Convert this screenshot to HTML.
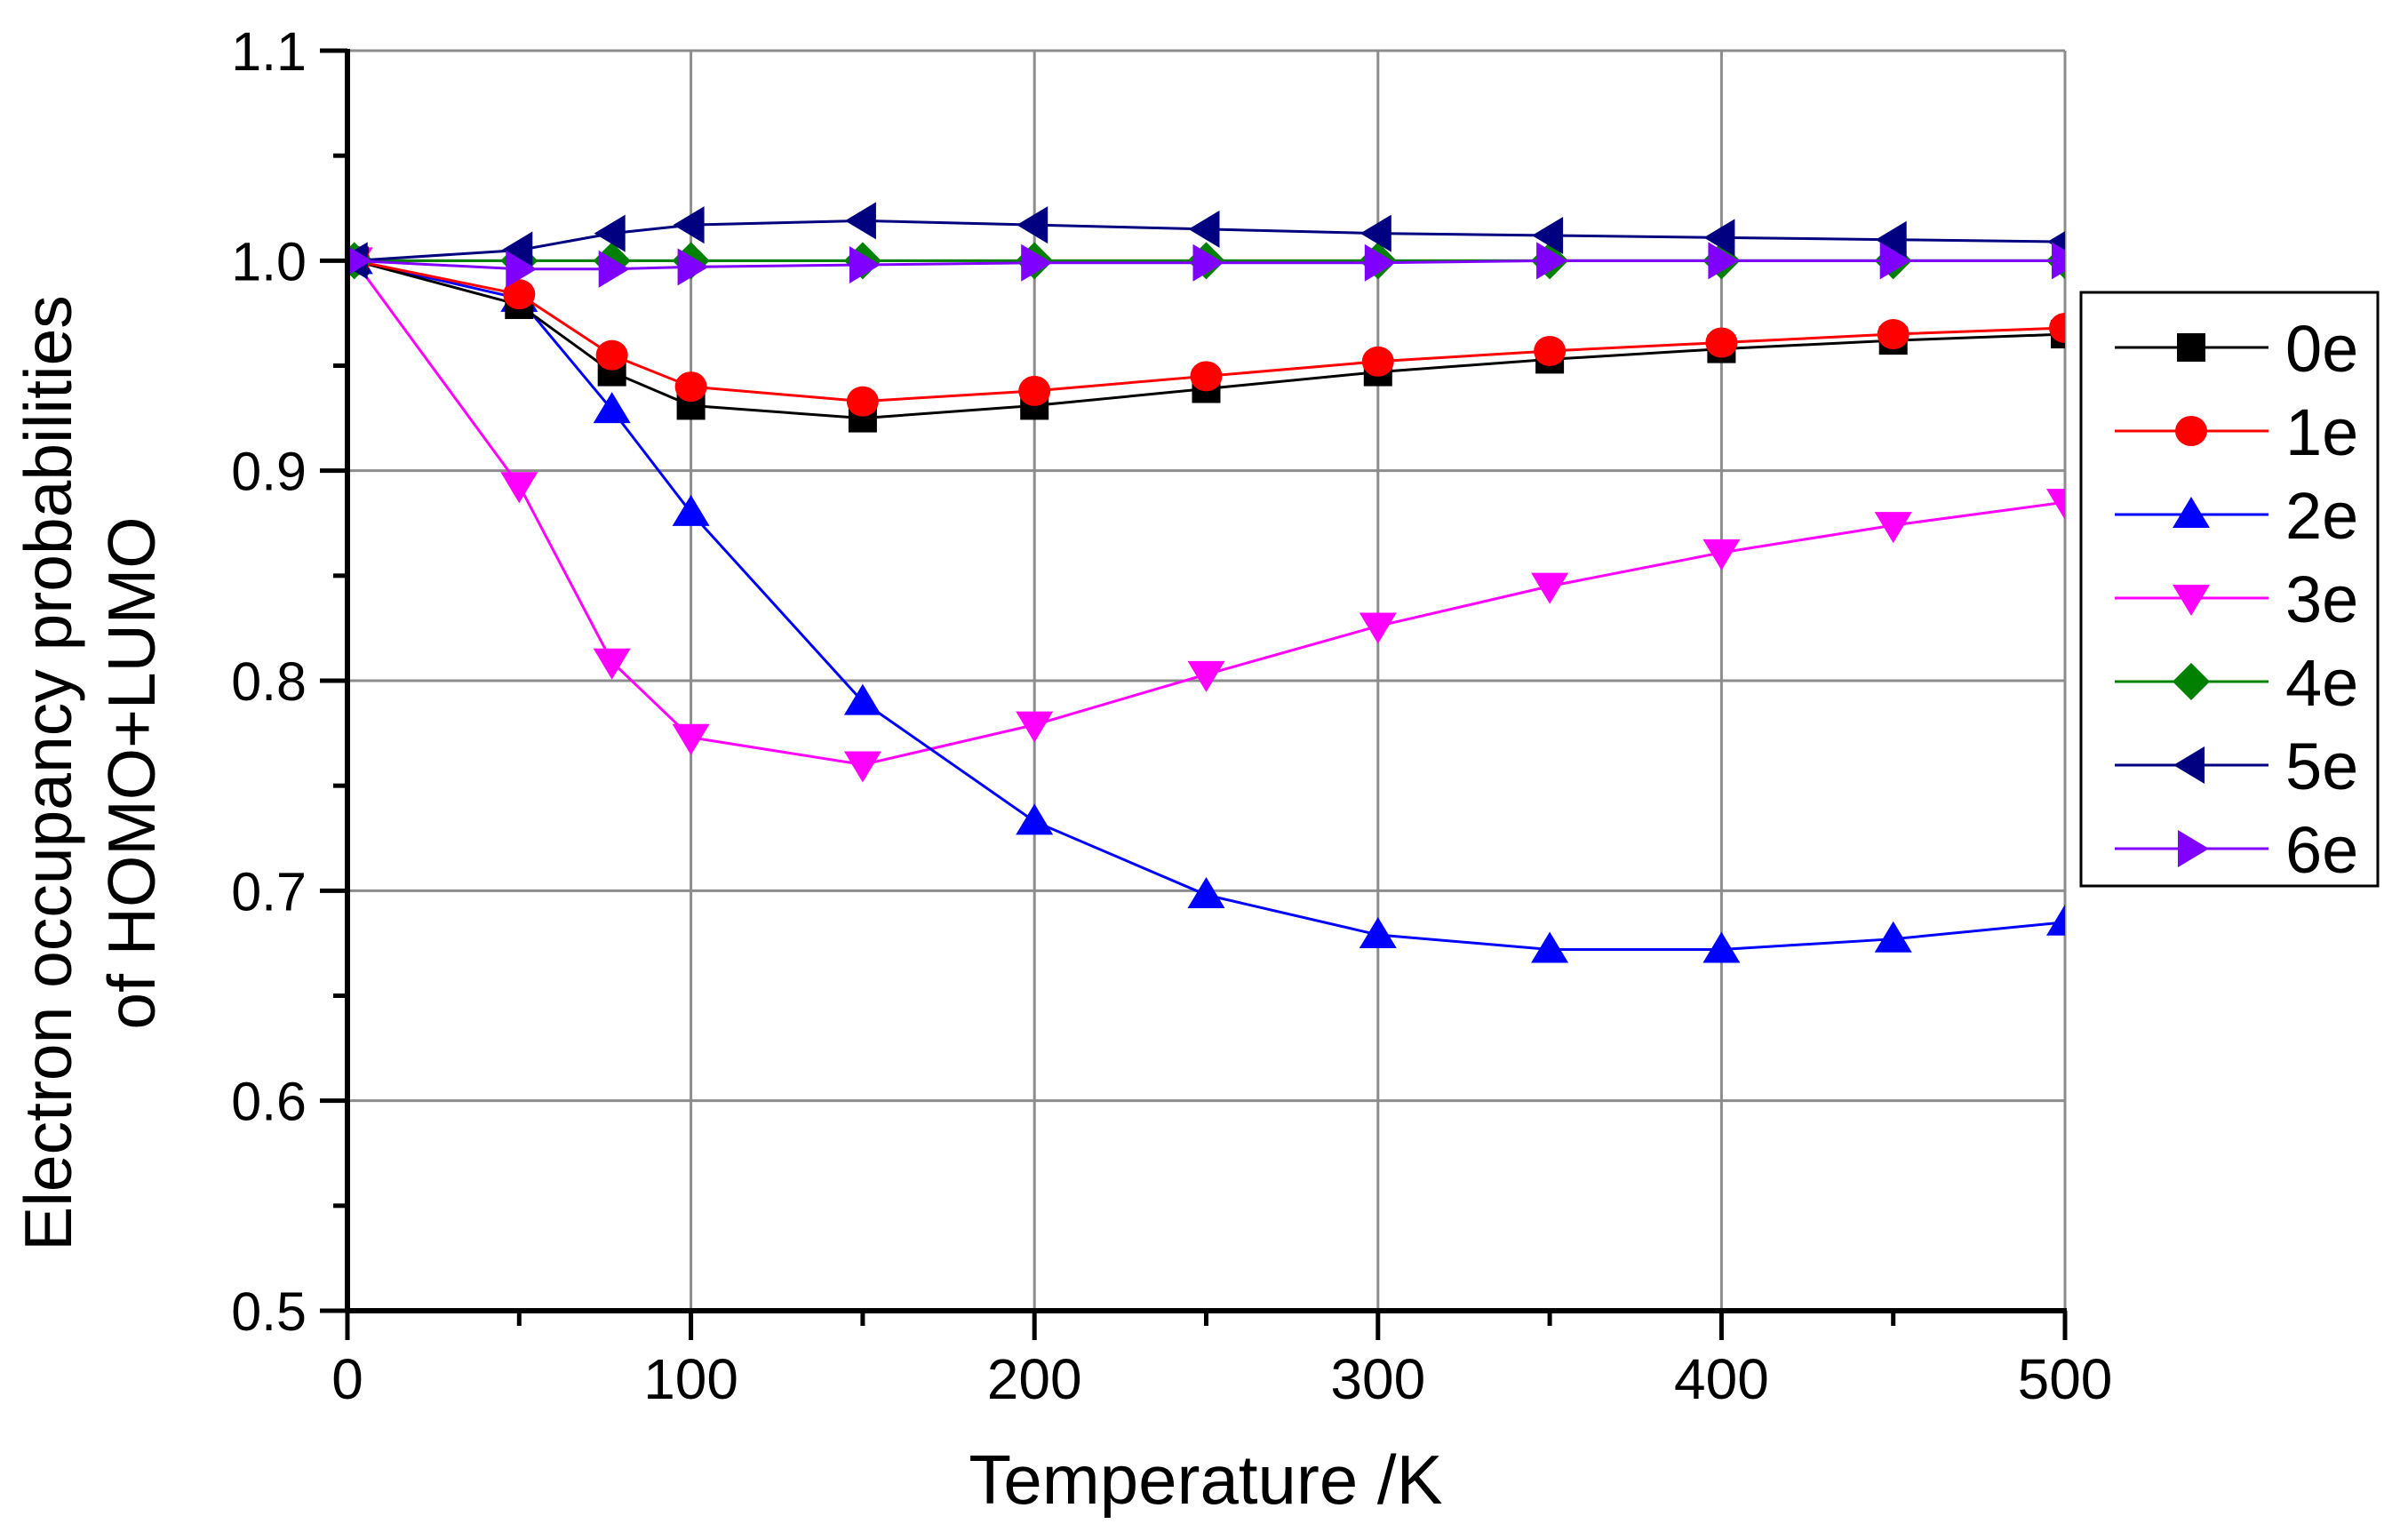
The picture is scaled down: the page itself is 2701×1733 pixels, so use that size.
<!DOCTYPE html>
<html><head><meta charset="utf-8"><style>
html,body{margin:0;padding:0;background:#fff;}
svg text{font-family:"Liberation Sans",Arial,sans-serif;fill:#000;}
</style></head><body>
<svg id="chart" width="2701" height="1728" viewBox="0 0 2701 1728" xmlns="http://www.w3.org/2000/svg">
<defs><clipPath id="plotclip"><rect x="391" y="57" width="1933" height="1418"/></clipPath></defs>
<g id="grid"></g>
<g id="series" clip-path="url(#plotclip)"></g>
<g id="axes"></g>
<text x="1357" y="1692" font-size="78" text-anchor="middle">Temperature /K</text>
<text transform="translate(80,870) rotate(-90)" font-size="75" text-anchor="middle">Electron occupancy probabilities</text>
<text transform="translate(174,870) rotate(-90)" font-size="75" text-anchor="middle">of HOMO+LUMO</text>
<rect x="2342" y="329" width="334" height="668" fill="#fff" stroke="#000" stroke-width="3"/>
<g id="legend"></g>
</svg>
<script>
const temps = [2, 50, 77, 100, 150, 200, 250, 300, 350, 400, 450, 500];
const s0e = [1.0, 0.979, 0.947, 0.931, 0.925, 0.931, 0.939, 0.947, 0.953, 0.958, 0.962, 0.965];
const s1e = [1.0, 0.984, 0.955, 0.940, 0.933, 0.938, 0.945, 0.952, 0.957, 0.961, 0.965, 0.968];
const s2e = [1.0, 0.982, 0.929, 0.880, 0.790, 0.733, 0.698, 0.679, 0.672, 0.672, 0.677, 0.685];
const s3e = [1.0, 0.893, 0.809, 0.773, 0.760, 0.779, 0.803, 0.826, 0.845, 0.861, 0.874, 0.885];
const s4e = [1.0, 1.0, 1.0, 1.0, 1.0, 1.0, 1.0, 1.0, 1.0, 1.0, 1.0, 1.0];
const s5e = [1.0, 1.005, 1.013, 1.017, 1.019, 1.017, 1.015, 1.013, 1.012, 1.011, 1.010, 1.009];
const s6e = [1.0, 0.996, 0.996, 0.997, 0.998, 0.999, 0.999, 0.999, 1.0, 1.0, 1.0, 1.0];
const seriesNames = ["0e", "1e", "2e", "3e", "4e", "5e", "6e"];
const xTicks = [0, 100, 200, 300, 400, 500];
const xTickLabels = ["0", "100", "200", "300", "400", "500"];
const yTicks = [0.5, 0.6, 0.7, 0.8, 0.9, 1.0, 1.1];
const yTickLabels = ["0.5", "0.6", "0.7", "0.8", "0.9", "1.0", "1.1"];

const X0 = 391, X1 = 2324, Y0 = 1475, Y1 = 57;
const xs = t => X0 + (t - 0) / 500 * (X1 - X0);
const ys = v => Y0 - (v - 0.5) / 0.6 * (Y0 - Y1);
const NS = "http://www.w3.org/2000/svg";
function mk(tag, attrs, parent) {
  const e = document.createElementNS(NS, tag);
  for (const k in attrs) e.setAttribute(k, attrs[k]);
  parent.appendChild(e);
  return e;
}
const grid = document.getElementById('grid');
const axes = document.getElementById('axes');
xTicks.forEach((t, i) => {
  if (t > 0) {
    const g = mk('line', {x1: xs(t), x2: xs(t), y1: Y1, y2: Y0, stroke: '#8c8c8c', 'stroke-width': 3}, grid);
    
    
  }
  const tk = mk('line', {x1: xs(t), x2: xs(t), y1: Y0, y2: Y0 + 33, stroke: '#000', 'stroke-width': 5}, axes);
  
  
  const mn = mk('line', {x1: xs(t + 50), x2: xs(t + 50), y1: Y0, y2: Y0 + 17, stroke: '#000', 'stroke-width': 5}, axes);
  if (t + 50 > 500) mn.remove();
  
  
  const lb = mk('text', {x: xs(t), y: 1574, 'font-size': 64, 'text-anchor': 'middle'}, axes);
  lb.textContent = xTickLabels[i];
  
  
});
yTicks.forEach((v, i) => {
  if (v > 0.5) {
    const g = mk('line', {x1: X0, x2: X1, y1: ys(v), y2: ys(v), stroke: '#8c8c8c', 'stroke-width': 3}, grid);
    
    
  }
  const tk = mk('line', {x1: X0 - 31, x2: X0, y1: ys(v), y2: ys(v), stroke: '#000', 'stroke-width': 5}, axes);
  
  
  if (v < 1.1) {
    const mn = mk('line', {x1: X0 - 16, x2: X0, y1: ys(v + 0.05), y2: ys(v + 0.05), stroke: '#000', 'stroke-width': 5}, axes);
    
    
  }
  const lb = mk('text', {x: 345, y: ys(v) + 22, 'font-size': 61, 'text-anchor': 'end'}, axes);
  lb.textContent = yTickLabels[i];
  
  
});
const ax1 = mk('line', {x1: X0, x2: X0, y1: Y1 - 2, y2: Y0 + 2, stroke: '#000', 'stroke-width': 6}, axes);


const ax2 = mk('line', {x1: X0, x2: X1 + 2, y1: Y0, y2: Y0, stroke: '#000', 'stroke-width': 6}, axes);



function marker(shape, cx, cy, color, parent) {
  let e;
  const r = 18;
  if (shape === 'square') e = mk('rect', {x: cx - 16, y: cy - 16, width: 32, height: 32, fill: color}, parent);
  else if (shape === 'circle') e = mk('ellipse', {cx: cx, cy: cy, rx: 18, ry: 17, fill: color}, parent);
  else {
    let p;
    if (shape === 'up') p = [[cx, cy - 20], [cx + 21, cy + 15], [cx - 21, cy + 15]];
    if (shape === 'down') p = [[cx, cy + 20], [cx + 21, cy - 15], [cx - 21, cy - 15]];
    if (shape === 'left') p = [[cx - 20, cy], [cx + 15, cy - 21], [cx + 15, cy + 21]];
    if (shape === 'right') p = [[cx + 20, cy], [cx - 15, cy - 21], [cx - 15, cy + 21]];
    if (shape === 'diamond') p = [[cx, cy - r - 3], [cx + r + 3, cy], [cx, cy + r + 3], [cx - r - 3, cy]];
    e = mk('polygon', {points: p.map(q => q.join(',')).join(' '), fill: color}, parent);
  }
  return e;
}
const allSeries = [s0e, s1e, s2e, s3e, s4e, s5e, s6e];
const colors = ['#000000', '#ff0000', '#0000ff', '#ff00ff', '#008000', '#000080', '#8000ff'];
const shapes = ['square', 'circle', 'up', 'down', 'diamond', 'left', 'right'];
const drawOrder = [3, 2, 0, 1, 4, 5, 6];
const sg = document.getElementById('series');
drawOrder.forEach(i => {
  const g = mk('g', {}, sg);
  
  
  const pl = mk('polyline', {points: temps.map((t, j) => xs(t) + ',' + ys(allSeries[i][j])).join(' '), fill: 'none', stroke: colors[i], 'stroke-width': 3}, g);
  
  
  temps.forEach((t, j) => {
    const m = marker(shapes[i], xs(t), ys(allSeries[i][j]), colors[i], g);
    
    
  });
});
const lg = document.getElementById('legend');
seriesNames.forEach((n, i) => {
  const y = 391 + i * 94;
  const g = mk('g', {}, lg);
  
  
  mk('line', {x1: 2380, x2: 2553, y1: y, y2: y, stroke: colors[i], 'stroke-width': 3}, g);
  marker(shapes[i], 2466, y, colors[i], g);
  const t = mk('text', {x: 2572, y: y + 27, 'font-size': 74}, g);
  t.textContent = n;
});
</script>
</body></html>
